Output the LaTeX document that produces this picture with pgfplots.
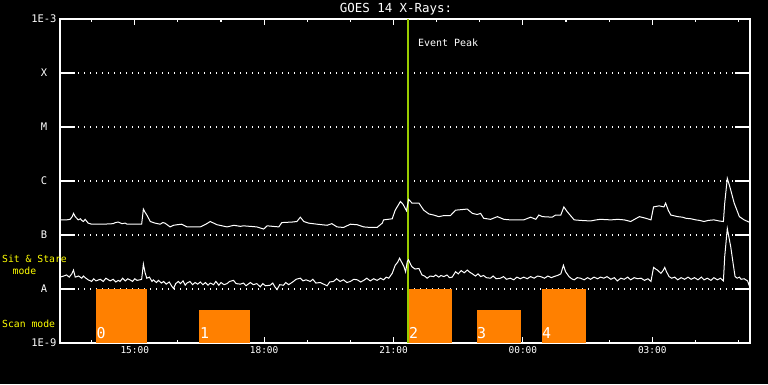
\documentclass[border=0pt]{standalone}
\usepackage{pgfplots}
\pgfplotsset{compat=1.18}
\usepackage{fontspec}
\setmainfont{DejaVu Sans Mono}
\definecolor{boxorange}{RGB}{255,128,0}
\definecolor{evgreen}{RGB}{153,204,0}
\definecolor{lblyellow}{RGB}{255,255,0}
\begin{document}
\begin{tikzpicture}[x=1bp,y=1bp]
\fill[black] (-60,-41) rectangle (708,343);
\begin{axis}[
  at={(0,0)}, anchor=south west,
  scale only axis, width=690bp, height=324bp,
  xmin=13.2667, xmax=29.2667, ymin=-9, ymax=-3,
  axis line style={white, line width=1.2bp},
  tick style={white, line width=1.2bp},
  major tick length=6bp, minor tick length=3bp,
  xtick={15,18,21,24,27},
  xticklabels={15:00,18:00,21:00,00:00,03:00},
  minor xtick={14,16,17,19,20,22,23,25,26,28,29},
  ytick={-9,-3}, yticklabels={1E-9,1E-3},
  extra y ticks={-8,-7,-6,-5,-4},
  extra y tick labels={A,B,C,M,X},
  extra y tick style={grid=major,
     major grid style={white, line width=1.2bp, dash pattern=on 1.2bp off 4.8bp},
     yticklabel style={anchor=center, xshift=-16bp}},
  ticklabel style={white, font=\fontsize{9.5}{10}\selectfont},
  yticklabel style={font=\fontsize{10.5}{11}\selectfont},
  xlabel={Start Time (03-Nov-20 13:16:00)},
  xlabel style={white, font=\fontsize{9.4}{10}\selectfont},
  every axis x label/.style={at={(axis description cs:0.5,0)}, anchor=center, yshift=-25bp},
  clip=false,
]
% scan boxes
\addplot[fill=boxorange, draw=none] coordinates {(14.103,-9) (14.103,-8) (15.28,-8) (15.28,-9)} -- cycle;
\addplot[fill=boxorange, draw=none] coordinates {(16.494,-9) (16.494,-8.39) (17.678,-8.39) (17.678,-9)} -- cycle;
\addplot[fill=boxorange, draw=none] coordinates {(21.347,-9) (21.347,-8) (22.36,-8) (22.36,-9)} -- cycle;
\addplot[fill=boxorange, draw=none] coordinates {(22.93,-9) (22.93,-8.39) (23.96,-8.39) (23.96,-9)} -- cycle;
\addplot[fill=boxorange, draw=none] coordinates {(24.435,-9) (24.435,-8) (25.47,-8) (25.47,-9)} -- cycle;
% event line
\addplot[evgreen, line width=2bp] coordinates {(21.342,-9) (21.342,-3)};
% upper curve
\addplot[white, line width=1bp, sharp plot, no marks] coordinates {
(13.27,-6.72) (13.42,-6.72) (13.50,-6.71) (13.55,-6.66) (13.58,-6.60) (13.62,-6.66) (13.69,-6.72) (13.74,-6.70) (13.77,-6.73) (13.81,-6.75) (13.85,-6.71) (13.92,-6.78) (14.00,-6.80) (14.27,-6.80) (14.50,-6.79) (14.55,-6.77) (14.62,-6.76) (14.70,-6.79) (14.78,-6.78) (14.82,-6.80) (15.16,-6.80) (15.20,-6.52) (15.24,-6.58) (15.28,-6.63) (15.36,-6.75) (15.47,-6.78) (15.59,-6.80) (15.65,-6.77) (15.70,-6.78) (15.82,-6.85) (15.90,-6.82) (15.98,-6.81) (16.09,-6.80) (16.21,-6.85) (16.52,-6.85) (16.65,-6.80) (16.75,-6.75) (16.91,-6.81) (17.14,-6.85) (17.30,-6.82) (17.45,-6.84) (17.52,-6.83) (17.83,-6.85) (17.99,-6.89) (18.07,-6.83) (18.34,-6.85) (18.41,-6.77) (18.65,-6.76) (18.76,-6.75) (18.84,-6.67) (18.92,-6.75) (19.03,-6.78) (19.23,-6.80) (19.46,-6.82) (19.57,-6.79) (19.69,-6.85) (19.84,-6.86) (20.00,-6.80) (20.16,-6.81) (20.31,-6.85) (20.46,-6.86) (20.62,-6.86) (20.74,-6.78) (20.77,-6.72) (20.97,-6.70) (21.04,-6.54) (21.16,-6.38) (21.22,-6.43) (21.30,-6.55) (21.35,-6.34) (21.43,-6.41) (21.59,-6.41) (21.70,-6.54) (21.82,-6.61) (21.93,-6.63) (22.05,-6.66) (22.17,-6.64) (22.32,-6.64) (22.44,-6.54) (22.71,-6.52) (22.83,-6.60) (22.94,-6.62) (23.02,-6.60) (23.09,-6.69) (23.25,-6.71) (23.41,-6.66) (23.56,-6.71) (23.71,-6.72) (24.02,-6.72) (24.18,-6.67) (24.30,-6.71) (24.37,-6.63) (24.45,-6.66) (24.68,-6.67) (24.76,-6.63) (24.88,-6.63) (24.95,-6.48) (25.03,-6.57) (25.19,-6.72) (25.34,-6.73) (25.57,-6.74) (25.70,-6.72) (25.80,-6.71) (26.04,-6.72) (26.20,-6.71) (26.35,-6.72) (26.50,-6.75) (26.70,-6.66) (26.85,-6.69) (26.97,-6.72) (27.03,-6.48) (27.16,-6.46) (27.27,-6.48) (27.31,-6.41) (27.37,-6.54) (27.43,-6.63) (27.59,-6.66) (27.70,-6.67) (27.78,-6.69) (27.90,-6.70) (28.01,-6.72) (28.10,-6.73) (28.20,-6.75) (28.30,-6.73) (28.43,-6.72) (28.55,-6.74) (28.65,-6.75) (28.68,-6.41) (28.74,-5.95) (28.80,-6.11) (28.90,-6.41) (29.02,-6.66) (29.13,-6.72) (29.27,-6.77)
};
% lower curve
\addplot[white, line width=1bp, sharp plot, no marks] coordinates {
(13.27,-7.78) (13.35,-7.76) (13.42,-7.74) (13.48,-7.78) (13.54,-7.72) (13.58,-7.65) (13.62,-7.78) (13.70,-7.76) (13.77,-7.80) (13.81,-7.76) (13.85,-7.79) (13.92,-7.83) (14.00,-7.86) (14.05,-7.81) (14.10,-7.85) (14.20,-7.82) (14.27,-7.86) (14.33,-7.80) (14.43,-7.85) (14.50,-7.82) (14.56,-7.87) (14.62,-7.84) (14.66,-7.86) (14.72,-7.80) (14.78,-7.85) (14.84,-7.81) (14.89,-7.83) (14.95,-7.86) (15.00,-7.81) (15.05,-7.84) (15.12,-7.83) (15.16,-7.82) (15.20,-7.54) (15.24,-7.70) (15.28,-7.80) (15.34,-7.78) (15.40,-7.86) (15.43,-7.83) (15.50,-7.88) (15.55,-7.84) (15.62,-7.89) (15.67,-7.86) (15.73,-7.91) (15.80,-7.87) (15.86,-7.95) (15.90,-7.99) (15.95,-7.90) (16.01,-7.86) (16.06,-7.90) (16.12,-7.85) (16.17,-7.93) (16.21,-7.89) (16.28,-7.86) (16.34,-7.92) (16.40,-7.88) (16.46,-7.91) (16.52,-7.87) (16.58,-7.92) (16.64,-7.88) (16.70,-7.93) (16.75,-7.89) (16.83,-7.92) (16.88,-7.86) (16.95,-7.93) (17.00,-7.88) (17.07,-7.92) (17.14,-7.90) (17.20,-7.86) (17.29,-7.84) (17.35,-7.90) (17.45,-7.91) (17.52,-7.89) (17.58,-7.94) (17.68,-7.88) (17.75,-7.92) (17.83,-7.90) (17.91,-7.96) (17.97,-7.90) (18.03,-7.94) (18.14,-7.93) (18.20,-7.89) (18.25,-7.96) (18.30,-8.01) (18.36,-7.92) (18.45,-7.93) (18.50,-7.88) (18.57,-7.92) (18.68,-7.86) (18.74,-7.82) (18.84,-7.80) (18.90,-7.85) (18.97,-7.83) (19.07,-7.86) (19.13,-7.82) (19.20,-7.89) (19.30,-7.88) (19.38,-7.91) (19.46,-7.94) (19.52,-7.87) (19.61,-7.86) (19.68,-7.81) (19.76,-7.86) (19.84,-7.83) (19.92,-7.88) (20.00,-7.86) (20.08,-7.82) (20.16,-7.83) (20.24,-7.87) (20.31,-7.84) (20.38,-7.80) (20.46,-7.85) (20.54,-7.81) (20.62,-7.84) (20.70,-7.80) (20.77,-7.83) (20.83,-7.78) (20.89,-7.80) (20.97,-7.71) (21.04,-7.56) (21.10,-7.50) (21.14,-7.43) (21.20,-7.52) (21.24,-7.58) (21.28,-7.68) (21.32,-7.49) (21.35,-7.46) (21.40,-7.55) (21.43,-7.59) (21.50,-7.63) (21.59,-7.62) (21.66,-7.74) (21.72,-7.76) (21.78,-7.80) (21.85,-7.76) (21.93,-7.77) (21.98,-7.74) (22.05,-7.78) (22.10,-7.75) (22.17,-7.77) (22.24,-7.74) (22.30,-7.79) (22.36,-7.78) (22.44,-7.68) (22.50,-7.72) (22.57,-7.66) (22.64,-7.70) (22.71,-7.65) (22.77,-7.69) (22.83,-7.72) (22.90,-7.76) (22.96,-7.72) (23.02,-7.77) (23.09,-7.75) (23.15,-7.79) (23.25,-7.80) (23.31,-7.76) (23.38,-7.81) (23.48,-7.80) (23.55,-7.77) (23.62,-7.82) (23.71,-7.80) (23.79,-7.83) (23.86,-7.78) (23.94,-7.81) (24.02,-7.78) (24.10,-7.81) (24.18,-7.77) (24.26,-7.80) (24.34,-7.76) (24.41,-7.77) (24.50,-7.80) (24.58,-7.76) (24.66,-7.79) (24.72,-7.77) (24.80,-7.75) (24.88,-7.72) (24.94,-7.56) (24.99,-7.68) (25.07,-7.77) (25.13,-7.81) (25.19,-7.83) (25.26,-7.79) (25.34,-7.80) (25.42,-7.83) (25.50,-7.79) (25.57,-7.82) (25.65,-7.78) (25.73,-7.81) (25.80,-7.78) (25.88,-7.80) (25.95,-7.77) (26.04,-7.82) (26.12,-7.79) (26.19,-7.85) (26.27,-7.80) (26.35,-7.82) (26.43,-7.78) (26.50,-7.83) (26.58,-7.79) (26.66,-7.81) (26.74,-7.80) (26.82,-7.84) (26.90,-7.81) (26.97,-7.86) (27.03,-7.60) (27.08,-7.63) (27.12,-7.65) (27.20,-7.71) (27.25,-7.66) (27.29,-7.60) (27.33,-7.68) (27.39,-7.77) (27.45,-7.80) (27.52,-7.78) (27.59,-7.83) (27.67,-7.79) (27.75,-7.82) (27.83,-7.78) (27.90,-7.82) (27.98,-7.79) (28.06,-7.83) (28.14,-7.78) (28.20,-7.83) (28.28,-7.80) (28.36,-7.84) (28.43,-7.79) (28.51,-7.83) (28.58,-7.80) (28.65,-7.85) (28.68,-7.40) (28.74,-6.88) (28.78,-7.05) (28.82,-7.22) (28.87,-7.50) (28.92,-7.77) (28.97,-7.80) (29.02,-7.78) (29.06,-7.82) (29.13,-7.81) (29.21,-7.85) (29.25,-7.94) (29.27,-7.89)
};
% solid stubs at the class levels
\pgfplotsinvokeforeach{-8,-7,-6,-5,-4}{
  \draw[white, line width=1.2bp] (axis cs:13.2667,#1) -- ++(15bp,0bp);
  \draw[white, line width=1.2bp] (axis cs:29.2667,#1) -- ++(-15bp,0bp);
}
\end{axis}
% texts
\node[white, font=\fontsize{12.5}{13}\selectfont] at (336,333.5) {GOES 14 X-Rays:};
\node[white, anchor=west, inner sep=0, font=\fontsize{10}{10}\selectfont] at (358,300) {Event Peak};
\node[lblyellow, anchor=west, inner sep=0, font=\fontsize{9.8}{10}\selectfont] at (-58,84) {Sit \& Stare};
\node[lblyellow, inner sep=0, font=\fontsize{9.8}{10}\selectfont] at (-35.5,72) {mode};
\node[lblyellow, anchor=west, inner sep=0, font=\fontsize{9.8}{10}\selectfont] at (-58,19) {Scan mode};
\foreach \xx/\lab in {36.5/0,140/1,349/2,417/3,482/4}{
  \node[white, anchor=base west, inner sep=0, font=\fontsize{15}{15}\selectfont] at (\xx,5) {\lab};
}
\pgfresetboundingbox
\useasboundingbox (-60,-41) rectangle (708,343);
\end{tikzpicture}
\end{document}
